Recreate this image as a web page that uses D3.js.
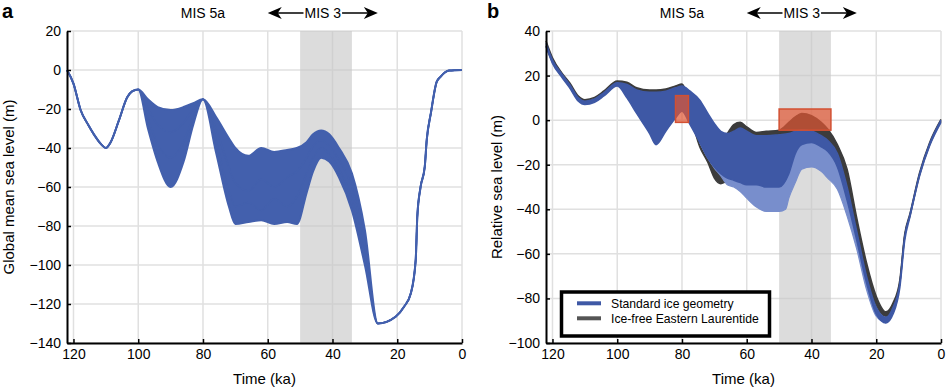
<!DOCTYPE html>
<html>
<head>
<meta charset="utf-8">
<script src="https://cdn.jsdelivr.net/npm/d3@7"></script>
<style>
  body { margin: 0; background: #fff; }
  svg { display: block; font-family: "Liberation Sans", Arial, Helvetica, sans-serif; }
</style>
</head>
<body>
<svg id="chart" width="946" height="388"></svg>
<script>
// ---------- data ----------
const timeTicks = [120, 100, 80, 60, 40, 20, 0];
const gmslTicks = [-140, -120, -100, -80, -60, -40, -20, 0, 20];
const rslTicks = [-100, -80, -60, -40, -20, 0, 20, 40];

const mis3Band = [50, 34];      // ka
const mis5aAt = 80;             // ka, label position
const mis3Arrow = [60, 26];     // ka, arrow extent

// panel a: global mean sea level ensemble (envelope + two interior members)
const gmslTime = [122, 120, 117.8, 115.5, 113.7, 111.5, 110, 108.6, 106, 103.4, 101.9, 100,
  97, 94, 90, 86, 83, 80, 76, 72, 70, 66, 62, 58, 54, 51, 48, 46, 43.5, 41, 38, 34, 30,
  26, 20.5, 17.9, 15.8, 14.3, 13.8, 12.8, 11.5, 10.9, 9.6, 7.8, 6.6, 4, 0];
const gmslUpper = [0, -7, -20.5, -28, -33, -38, -40, -37.3, -26, -14, -11, -10,
  -15, -19, -20.5, -19, -17, -15, -24, -35, -40, -44, -40, -42, -41, -40, -37, -33, -31, -33, -40, -53, -82,
  -130, -126.5, -121.4, -114.5, -97.4, -75, -60, -49.6, -36, -22, -6, -3.4, -0.3, 0];
const gmslLower = [0, -7, -20.5, -28, -33, -38, -40, -37.3, -26, -14, -11, -10,
  -30, -47, -60, -47, -28, -15, -42, -70, -79, -78, -77, -79, -78, -79, -63, -52, -45, -47, -55, -72, -100,
  -130, -126.5, -121.4, -114.5, -97.4, -75, -60, -49.6, -36, -22, -6, -3.4, -0.3, 0];
const gmslMidA = [0, -7, -20.5, -28, -33, -38, -40, -37.3, -26, -14, -11, -10,
  -20, -28, -32, -27, -20, -15, -30, -50, -58, -62, -56, -60, -55, -52, -45, -39, -36, -39, -46, -60, -90,
  -130, -126.5, -121.4, -114.5, -97.4, -75, -60, -49.6, -36, -22, -6, -3.4, -0.3, 0];
const gmslMidB = [0, -7, -20.5, -28, -33, -38, -40, -37.3, -26, -14, -11, -10,
  -25, -38, -45, -37, -24, -15, -36, -62, -70, -68, -72, -66, -70, -65, -53, -45, -40, -43, -51, -66, -96,
  -130, -126.5, -121.4, -114.5, -97.4, -75, -60, -49.6, -36, -22, -6, -3.4, -0.3, 0];

// panel b: relative sea level ensembles
const rslTime = [122, 120, 117, 114.7, 112, 110, 107, 104, 100, 97, 94, 90, 88, 85, 82, 80,
  77.5, 74.5, 72, 70, 68, 66, 64, 62, 60, 57, 54, 50, 47, 45, 43, 40, 37, 35, 32,
  29, 26, 23, 20, 17, 14.8, 12.7, 11.2, 9.6, 6.6, 3.5, 0];
const rslStdUpper = [34.5, 27, 20.5, 16, 10, 8.5, 9.5, 12.5, 16.8, 16, 13.5, 12.5, 12.5, 13, 14.5, 15.3,
  13, 9, 3, -1.5, -5, -6, -5, -3.5, -5, -7, -7, -6.5, -6, -5, -4.5, -5, -7, -9, -15,
  -30, -50, -70, -84, -88.5, -84, -73, -52, -42.5, -24, -10.5, 0];
const rslStdLower = [33, 25.5, 19, 14.5, 8.5, 7, 8, 11, 15.3, 10, 3, -6, -11, -5, 1, 4,
  -2, -10, -17, -21, -24, -26, -27, -28, -29, -29, -30, -30, -24, -15, -11, -10, -12, -14, -21,
  -36, -54, -73, -87, -91, -87, -75, -54, -43.5, -25, -11.5, -1];
const rslIceFreeUpper = [35.5, 28, 21, 16.8, 10.8, 9.2, 10.2, 13.2, 17.6, 17, 14.5, 13.5, 13.5, 14, 15.3, 16.2,
  8, -2, -8, -12, -10, -6, -2, -1, -3, -5.5, -5, -4.5, -1, 1.5, 3, 2, -1, -4, -11,
  -22, -44, -64, -79, -86, -82, -71.5, -51, -42, -23.5, -10, 0.3];
const rslIceFreeLower = [33.5, 26, 19.5, 15, 9, 7.5, 8.5, 11.5, 16, 14, 9, 5, 4, 5, 8, 11,
  2, -12, -19, -26, -28.5, -27, -22, -16, -12, -11, -11, -10, -8, -6, -5, -6, -8, -11, -18,
  -32, -50, -70, -83, -88, -84, -73, -52, -43, -24.5, -11, -0.5];
// lighter subset of the standard-geometry runs
const rslLightTime = [74.5, 72, 70, 68, 66, 64, 62, 60, 57, 54, 50, 48, 47, 45, 43, 40, 37, 35, 32, 29, 26, 23, 20, 17];
const rslLightUpper = [-10, -17, -21, -23, -23, -23, -24, -25, -26, -27, -27, -26, -22, -15, -11, -10, -11, -14, -20, -35, -53, -72, -86, -90];
const rslLightLower = [-10, -17, -21.5, -25, -29, -30, -32, -35, -39, -41, -41, -40, -35, -28, -22, -21, -23, -26, -31, -43, -58, -76, -88, -91];

// sea-level constraints (red boxes)
const rslBoxes = [
  { t0: 82, t1: 78, lo: -1, hi: 11 },
  { t0: 50, t1: 34, lo: -4.5, hi: 5 }
];

const legendItems = [
  { label: "Standard ice geometry", color: "#3e58a5" },
  { label: "Ice-free Eastern Laurentide", color: "#555555" }
];

// ---------- layout ----------
const svg = d3.select("#chart");
const plotTop = 31, plotBottom = 343;

const xA = d3.scaleLinear().domain([122, 0]).range([67, 462]);
const yA = d3.scaleLinear().domain([-140, 20]).range([plotBottom, plotTop]);
const xB = d3.scaleLinear().domain([122, 0]).range([546, 941]);
const yB = d3.scaleLinear().domain([-100, 40]).range([plotBottom, plotTop]);

function drawGrid(g, x, y, yTicks) {
  const [x0, x1] = x.range();
  g.selectAll(null).data(timeTicks).join("line")
    .attr("x1", d => x(d)).attr("x2", d => x(d))
    .attr("y1", plotTop).attr("y2", plotBottom)
    .attr("stroke", "#e0e0e0").attr("stroke-width", 1.5);
  g.selectAll(null).data(yTicks).join("line")
    .attr("x1", x0).attr("x2", x1)
    .attr("y1", d => y(d)).attr("y2", d => y(d))
    .attr("stroke", "#e0e0e0").attr("stroke-width", 1.5);
  // MIS 3 shading
  g.append("rect")
    .attr("x", x(mis3Band[0])).attr("width", x(mis3Band[1]) - x(mis3Band[0]))
    .attr("y", plotTop).attr("height", plotBottom - plotTop)
    .attr("fill", "#c6c6c6").attr("opacity", 0.62);
}

function drawBand(g, x, y, t, upper, lower, color, width = 1.5) {
  const idx = d3.range(t.length);
  g.append("path").datum(idx)
    .attr("fill", color)
    .attr("d", d3.area().curve(d3.curveMonotoneX)
      .x(i => x(t[i])).y0(i => y(lower[i])).y1(i => y(upper[i])));
  [upper, lower].forEach(s => {
    g.append("path").datum(idx)
      .attr("fill", "none").attr("stroke", color).attr("stroke-width", width)
      .attr("stroke-linejoin", "round")
      .attr("d", d3.line().curve(d3.curveMonotoneX).x(i => x(t[i])).y(i => y(s[i])));
  });
}

function drawMember(g, x, y, t, s, color, width = 1.5) {
  g.append("path").datum(d3.range(t.length))
    .attr("fill", "none").attr("stroke", color).attr("stroke-width", width)
    .attr("d", d3.line().curve(d3.curveMonotoneX).x(i => x(t[i])).y(i => y(s[i])));
}

function drawAxes(g, x, y, yTicks) {
  const xAxis = g.append("g").attr("transform", `translate(0,${plotBottom})`)
    .call(d3.axisBottom(x).tickValues(timeTicks).tickSizeInner(-4).tickSizeOuter(0)
      .tickPadding(6).tickFormat(d3.format("d")));
  const yAxis = g.append("g").attr("transform", `translate(${x.range()[0]},0)`)
    .call(d3.axisLeft(y).tickValues(yTicks).tickSizeInner(-4).tickSizeOuter(0)
      .tickPadding(6).tickFormat(d3.format("d")));
  [xAxis, yAxis].forEach(a => {
    a.attr("font-family", null).attr("font-size", 14);
    a.select(".domain").attr("stroke", "#000").attr("stroke-width", 2);
    a.selectAll(".tick line").attr("stroke", "#000").attr("stroke-width", 1.5);
    a.selectAll(".tick text").attr("fill", "#000");
  });
}

function drawTitles(g, x, letter, letterX, yTitle, yTitleX) {
  const [x0, x1] = x.range();
  g.append("text").attr("x", letterX).attr("y", 18)
    .attr("font-size", 20).attr("font-weight", "bold").text(letter);
  g.append("text").attr("x", (x0 + x1) / 2).attr("y", 384)
    .attr("text-anchor", "middle").attr("font-size", 15).text("Time (ka)");
  g.append("text").attr("transform", `translate(${yTitleX},${(plotTop + plotBottom) / 2}) rotate(-90)`)
    .attr("text-anchor", "middle").attr("font-size", 15).text(yTitle);

  // MIS labels above the plot
  g.append("text").attr("x", x(mis5aAt)).attr("y", 18)
    .attr("text-anchor", "middle").attr("font-size", 14).text("MIS 5a");
  const ax0 = x(mis3Arrow[0]), ax1 = x(mis3Arrow[1]);
  const ay = 13;
  const lab = g.append("text").attr("x", (ax0 + ax1) / 2).attr("y", 18)
    .attr("text-anchor", "middle").attr("font-size", 14).text("MIS 3");
  const w = lab.node().getComputedTextLength();
  const tl = (ax0 + ax1) / 2 - w / 2 - 1, tr = (ax0 + ax1) / 2 + w / 2 + 1;
  g.append("line").attr("x1", ax0 + 8).attr("x2", tl).attr("y1", ay).attr("y2", ay)
    .attr("stroke", "#000").attr("stroke-width", 1.5);
  g.append("line").attr("x1", tr).attr("x2", ax1 - 8).attr("y1", ay).attr("y2", ay)
    .attr("stroke", "#000").attr("stroke-width", 1.5);
  g.append("path").attr("fill", "#000")
    .attr("d", `M${ax0},${ay} L${ax0 + 14},${ay - 6} L${ax0 + 10},${ay} L${ax0 + 14},${ay + 6} Z`);
  g.append("path").attr("fill", "#000")
    .attr("d", `M${ax1},${ay} L${ax1 - 14},${ay - 6} L${ax1 - 10},${ay} L${ax1 - 14},${ay + 6} Z`);
}

// ---------- panel a ----------
const ga = svg.append("g");
drawGrid(ga, xA, yA, gmslTicks);
drawBand(ga, xA, yA, gmslTime, gmslUpper, gmslLower, "#4360ad", 2);
drawMember(ga, xA, yA, gmslTime, gmslMidA, "#4360ad");
drawMember(ga, xA, yA, gmslTime, gmslMidB, "#4360ad");
drawAxes(ga, xA, yA, gmslTicks);
drawTitles(ga, xA, "a", 2, "Global mean sea level (m)", 14);

// ---------- panel b ----------
const gb = svg.append("g");
drawGrid(gb, xB, yB, rslTicks);
drawBand(gb, xB, yB, rslTime, rslIceFreeUpper, rslIceFreeLower, "#3c3c3c", 1.5);
drawBand(gb, xB, yB, rslLightTime, rslLightUpper, rslLightLower, "#788ecc", 1.2);
drawBand(gb, xB, yB, rslTime, rslStdUpper, rslStdLower, "#3e58a5", 1.5);

gb.selectAll(null).data(rslBoxes).join("rect")
  .attr("x", d => xB(d.t0)).attr("width", d => xB(d.t1) - xB(d.t0))
  .attr("y", d => yB(d.hi)).attr("height", d => yB(d.lo) - yB(d.hi))
  .attr("fill", "rgb(225,85,50)").attr("fill-opacity", 0.7)
  .attr("stroke", "rgb(210,80,50)").attr("stroke-width", 1.5);

drawAxes(gb, xB, yB, rslTicks);
drawTitles(gb, xB, "b", 487, "Relative sea level (m)", 502);

// legend
const lg = gb.append("g");
lg.append("rect").attr("x", 561.5).attr("y", 292).attr("width", 208).attr("height", 44)
  .attr("fill", "#fff").attr("stroke", "#000").attr("stroke-width", 3.5);
legendItems.forEach((d, i) => {
  const yy = 303.3 + i * 15;
  lg.append("line").attr("x1", 577).attr("x2", 601).attr("y1", yy).attr("y2", yy)
    .attr("stroke", d.color).attr("stroke-width", 4);
  lg.append("text").attr("x", 611).attr("y", yy + 4.5).attr("font-size", 12.2).text(d.label);
});
</script>
</body>
</html>
